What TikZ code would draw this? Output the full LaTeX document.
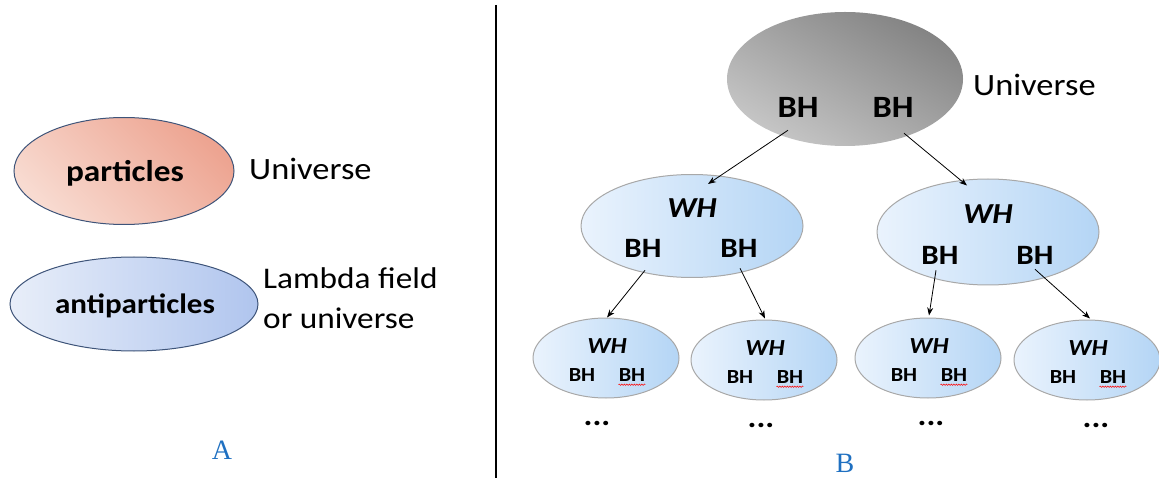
\documentclass[tikz,border=0pt]{standalone}
\usepackage{fontspec}
\setmainfont{Carlito}[FakeStretch=1.11]
\newfontfamily\labelfont{Liberation Serif}
\usetikzlibrary{shapes.geometric}
\usetikzlibrary{arrows.meta}
\usetikzlibrary{decorations.pathmorphing}

\definecolor{partL}{HTML}{F8DBD1}
\definecolor{partR}{HTML}{EDA491}
\definecolor{antiL}{HTML}{E8EEF9}
\definecolor{antiR}{HTML}{B0C5EE}
\definecolor{edgeA}{HTML}{3E5479}
\definecolor{univL}{HTML}{C6C6C6}
\definecolor{univR}{HTML}{838383}
\definecolor{holeL}{HTML}{EAF3FD}
\definecolor{holeR}{HTML}{B4D5F5}
\definecolor{edgeB}{HTML}{A8A8A8}
\definecolor{tagblue}{HTML}{1F70C1}

\tikzset{
  blob/.style={ellipse, inner sep=0pt},
  txt/.style={inner sep=0pt},
  big/.style={font=\fontsize{31}{37}\selectfont},
  bigb/.style={font=\bfseries\fontsize{31}{37}\selectfont},
  midb/.style={font=\bfseries\fontsize{28}{33}\selectfont},
  midwh/.style={font=\bfseries\itshape\fontsize{29}{34}\selectfont},
  smallb/.style={font=\bfseries\fontsize{20}{24}\selectfont},
  smallwh/.style={font=\bfseries\itshape\fontsize{23}{27}\selectfont},
  whblob/.style={blob, draw=edgeB, line width=1pt, left color=holeL, right color=holeR},
  arr/.style={-{Stealth[length=8pt,width=6pt]}, line width=0.8pt},
  tag/.style={font=\labelfont\fontsize{28}{32}\selectfont, text=tagblue},
}

\def\smw{146pt}
\def\smh{80pt}

\begin{document}
\begin{tikzpicture}[x=1pt,y=-1pt]
\useasboundingbox (0,0) rectangle (1159,478);

% panel A
\draw[line width=2pt] (496,5) -- (496,478);

\node[blob, draw=edgeA, line width=1pt, left color=partL, right color=partR, shading angle=135,
      minimum width=220pt, minimum height=107pt] (part) at (124,171) {};
\node[txt, font=\bfseries\fontsize{30}{36}\selectfont] (partt) at (125,173) {particles};
\node[txt, big, anchor=west] (universeA) at (249,169) {Universe};

\node[blob, draw=edgeA, line width=1pt, left color=antiL, right color=antiR,
      minimum width=248pt, minimum height=94pt] (anti) at (134,304) {};
\node[txt, font=\bfseries\fontsize{28}{34}\selectfont] (antit) at (135,306) {antiparticles};
\node[txt, big, anchor=west, align=left, font=\fontsize{30}{40}\selectfont] (lambda) at (263,298) {Lambda field\\or universe};

\node[tag] (tagA) at (222,450) {A};

% panel B, top
\node[blob, left color=univL, right color=univR, shading angle=150,
      minimum width=236pt, minimum height=134pt] (univ) at (845,79) {};
\node[txt, bigb] (u-l) at (798,107) {BH};
\node[txt, bigb] (u-r) at (893,107) {BH};
\node[txt, big, anchor=west] (universeB) at (973,85) {Universe};

% second level
\node[whblob, minimum width=222pt, minimum height=103pt] (w1) at (692,226) {};
\node[txt, midwh] (w1-t) at (692,208) {WH};
\node[txt, midb] (w1-l) at (643,248) {BH};
\node[txt, midb] (w1-r) at (739,248) {BH};

\node[whblob, minimum width=222pt, minimum height=106pt] (w2) at (988,232) {};
\node[txt, midwh] (w2-t) at (988,214) {WH};
\node[txt, midb] (w2-l) at (940,255) {BH};
\node[txt, midb] (w2-r) at (1035,255) {BH};

% third level
\foreach \n/\x/\y in {1/606/358, 2/764/360, 3/928/358, 4/1087/360}{
  \node[whblob, minimum width=\smw, minimum height=\smh] (s\n) at (\x,\y) {};
  \node[txt, smallwh] (s\n-t) at (\x+1,\y-12) {WH};
  \node[txt, smallb] (s\n-l) at (\x-24,\y+17) {BH};
  \node[txt, smallb] (s\n-r) at (\x+26,\y+17) {BH};
  \draw[red, line width=0.5pt, decorate, decoration={snake, amplitude=0.7pt, segment length=2.5pt}]
    ([shift={(0,3)}]s\n-r.south west) -- ([shift={(0,3)}]s\n-r.south east);
  \node[txt, font=\bfseries\fontsize{30}{34}\selectfont] (d\n) at (\x-15+6*\n,\y+65) {...};
}

\draw[arr] ([shift={(-10,13)}]u-l.south) -- ([shift={(16,10)}]w1.north);
\draw[arr] ([shift={(11,16)}]u-r.south) -- ([shift={(-21,7)}]w2.north);
\draw[arr] ([shift={(2,13)}]w1-l.south) -- ([shift={(1,0)}]s1.north);
\draw[arr] ([shift={(1,11)}]w1-r.south) -- ([shift={(1,-1)}]s2.north);
\draw[arr] ([shift={(-4,6)}]w2-l.south) -- ([shift={(1,-2)}]s3.north);
\draw[arr] ([shift={(0,5)}]w2-r.south) -- ([shift={(3,-1)}]s4.north);

\node[tag] (tagB) at (845,463) {B};
\end{tikzpicture}
\end{document}
